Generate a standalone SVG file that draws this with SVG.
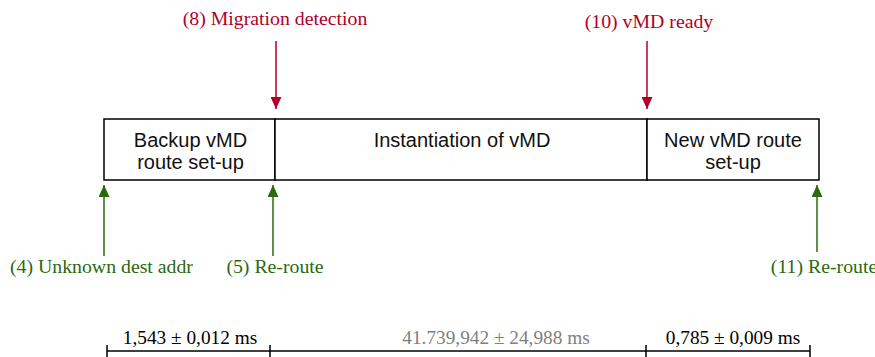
<svg xmlns="http://www.w3.org/2000/svg" width="875" height="357" viewBox="0 0 875 357">
  <defs>
    <marker id="ahRed" viewBox="0 0 12 11" refX="12" refY="5.5" markerWidth="12" markerHeight="11" markerUnits="userSpaceOnUse" orient="auto">
      <path d="M0,0 L12,5.5 L0,11 z" fill="#b0002a"/>
    </marker>
    <marker id="ahGreen" viewBox="0 0 12 11" refX="12" refY="5.5" markerWidth="12" markerHeight="11" markerUnits="userSpaceOnUse" orient="auto">
      <path d="M0,0 L12,5.5 L0,11 z" fill="#2a6a0c"/>
    </marker>
  </defs>
  <style>
    .box { fill: #ffffff; stroke: #000000; stroke-width: 1.5; }
    .phase { font-family: "Liberation Sans", Arial, sans-serif; font-size: 20px; fill: #111111; text-anchor: middle; }
    .ev { font-family: "Liberation Serif", "Times New Roman", serif; font-size: 19.8px; text-anchor: middle; }
    .red { fill: #b0002a; }
    .green { fill: #2a6a0c; }
    .ared { stroke: #b0002a; stroke-width: 1.5; fill: none; marker-end: url(#ahRed); }
    .agreen { stroke: #2a6a0c; stroke-width: 1.5; fill: none; marker-end: url(#ahGreen); }
    .scale { stroke: #000000; stroke-width: 1.5; }
    .dur { font-family: "Liberation Serif", "Times New Roman", serif; font-size: 19.3px; fill: #000000; text-anchor: middle; }
    .dur.gray { fill: #808080; }
  </style>

  <!-- timeline phases -->
  <g id="phase-backup">
    <rect class="box" x="104" y="119" width="171" height="61"/>
    <text class="phase" x="190.5" y="147">Backup vMD</text>
    <text class="phase" x="190.5" y="169">route set-up</text>
  </g>
  <g id="phase-instantiation">
    <rect class="box" x="275" y="119" width="372" height="61"/>
    <text class="phase" x="462" y="147">Instantiation of vMD</text>
  </g>
  <g id="phase-newroute">
    <rect class="box" x="647" y="119" width="172" height="61"/>
    <text class="phase" x="733" y="147">New vMD route</text>
    <text class="phase" x="733" y="169">set-up</text>
  </g>

  <!-- event labels -->
  <g id="ev8"><text class="ev red" x="275" y="25">(8) Migration detection</text></g>
  <g id="ev10"><text class="ev red" x="649" y="28">(10) vMD ready</text></g>
  <g id="ev4"><text class="ev green" x="101.5" y="273">(4) Unknown dest addr</text></g>
  <g id="ev5"><text class="ev green" x="275" y="273">(5) Re-route</text></g>
  <g id="ev11"><text class="ev green" x="824" y="273">(11) Re-route</text></g>

  <!-- event arrows -->
  <g id="connectors">
    <line class="ared" x1="276" y1="41" x2="276" y2="109"/>
    <line class="ared" x1="647" y1="41" x2="647" y2="109"/>
    <line class="agreen" x1="104" y1="256" x2="104" y2="185"/>
    <line class="agreen" x1="273" y1="256" x2="273" y2="185"/>
    <line class="agreen" x1="817" y1="252" x2="817" y2="185"/>
  </g>

  <!-- duration scale -->
  <g id="scale">
    <line class="scale" x1="107" y1="351" x2="810" y2="351"/>
    <line class="scale" x1="107" y1="345" x2="107" y2="357"/>
    <line class="scale" x1="270" y1="345" x2="270" y2="357"/>
    <line class="scale" x1="646" y1="345" x2="646" y2="357"/>
    <line class="scale" x1="810" y1="345" x2="810" y2="357"/>
    <text class="dur" x="190" y="344">1,543 ± 0,012 ms</text>
    <text class="dur gray" x="496" y="344">41.739,942 ± 24,988 ms</text>
    <text class="dur" x="733" y="344">0,785 ± 0,009 ms</text>
  </g>
</svg>
